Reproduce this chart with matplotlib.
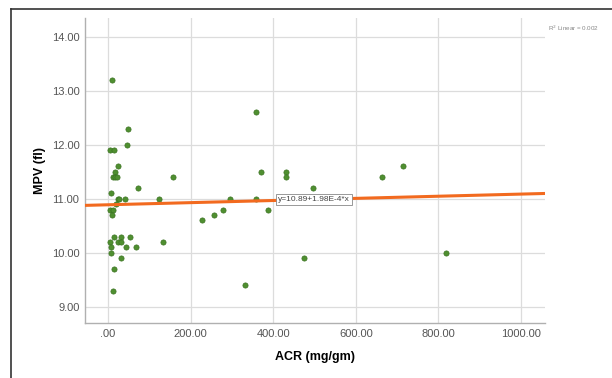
import matplotlib
matplotlib.use("Agg")
import matplotlib.pyplot as plt
from matplotlib.lines import Line2D

plt.rcParams['font.family'] = ['Liberation Sans', 'DejaVu Sans']

acr = [10, 49, 5, 15, 46, 25, 17, 11, 17, 22, 158, 73, 6.5, 23, 26, 40, 124, 19,
       5, 13, 9, 15, 31, 52, 25, 32, 5, 132, 7, 44, 68, 7, 31, 15, 11,
       228, 257, 278, 295, 357, 357, 370, 332, 430, 430, 495, 387, 475,
       664, 713, 818]
mpv = [13.2, 12.3, 11.9, 11.9, 12.0, 11.6, 11.5, 11.4, 11.4, 11.4, 11.4, 11.2, 11.1, 11.0, 11.0, 11.0, 11.0, 10.9,
       10.8, 10.8, 10.7, 10.3, 10.3, 10.3, 10.2, 10.2, 10.2, 10.2, 10.1, 10.1, 10.1, 10.0, 9.9, 9.7, 9.3,
       10.6, 10.7, 10.8, 11.0, 12.6, 11.0, 11.5, 9.4, 11.5, 11.4, 11.2, 10.8, 9.9,
       11.4, 11.6, 10.0]

intercept = 10.89
slope = 1.98e-4
x_ticks = [0, 200, 400, 600, 800, 1000]
x_labels = ['.00', '200.00', '400.00', '600.00', '800.00', '1000.00']
y_ticks = [9, 10, 11, 12, 13, 14]
y_labels = ['9.00', '10.00', '11.00', '12.00', '13.00', '14.00']

fig = plt.figure(figsize=(6.12, 3.78), dpi=100)
W, H = 612, 378
ax = fig.add_axes([85 / W, 1 - 323 / H, (545 - 85) / W, (323 - 18) / H])

xmin, xmax = -56, 1058
ax.set_xlim(xmin, xmax)
ax.set_ylim(8.70, 14.35)

ax.set_xticks(x_ticks)
ax.set_xticklabels(x_labels)
ax.set_yticks(y_ticks)
ax.set_yticklabels(y_labels)
ax.grid(True, color='#dcdcdc', linewidth=0.9)
ax.set_axisbelow(True)
for s in ['top', 'right']:
    ax.spines[s].set_visible(False)
for s in ['left', 'bottom']:
    ax.spines[s].set_color('#b0b0b0')
    ax.spines[s].set_linewidth(1.0)
ax.tick_params(length=0, labelsize=8, labelcolor='#555555', pad=4)

ax.scatter(acr, mpv, s=14, color='#4f8f30', edgecolors='#3a7321', linewidths=0.5, zorder=3)

lx = [xmin, xmax]
ly = [intercept + slope * v for v in lx]
ax.plot(lx, ly, color='#f26a1f', linewidth=2.2, zorder=4)

ax.text(499, 10.99, 'y=10.89+1.98E-4*x', fontsize=6, color='#444444', ha='center', va='center',
        bbox=dict(boxstyle='square,pad=0.25', facecolor='white', edgecolor='#888888', linewidth=0.6),
        zorder=5)

ax.set_xlabel('ACR (mg/gm)', fontsize=9, fontweight='bold', labelpad=9)
ax.set_ylabel('MPV (fl)', fontsize=9, fontweight='bold', labelpad=4)

fig.text(548 / W, 1 - 28 / H, 'R$^2$ Linear = 0.002', fontsize=4.5, color='#888888', va='center')

fig.add_artist(Line2D([11 / W, 11 / W], [0, 1 - 9 / H], color='#333333', linewidth=1.2))
fig.add_artist(Line2D([11 / W, 1], [1 - 9 / H, 1 - 9 / H], color='#333333', linewidth=1.2))

fig.savefig('out.png', dpi=100)
